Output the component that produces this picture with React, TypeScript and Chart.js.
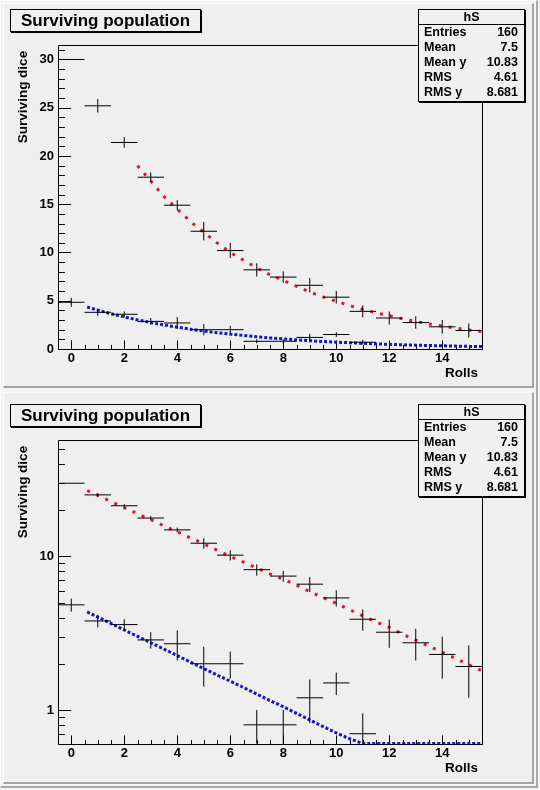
import React, { useEffect, useRef } from 'react';
import { Chart, registerables } from 'chart.js';

Chart.register(...registerables);

// ---------------- data ----------------
const rolls = [0, 1, 2, 3, 4, 5, 6, 7, 8, 9, 10, 11, 12, 13, 14, 15];
const survivingDice = [30, 25.2, 21.4, 17.8, 14.9, 12.2, 10.2, 8.2, 7.45, 6.6, 5.37, 3.9, 3.21, 2.74, 2.3, 1.92];
const survivingErr = [0, 0.7, 0.55, 0.5, 0.52, 0.95, 0.78, 0.69, 0.6, 0.74, 0.65, 0.62, 0.67, 0.64, 0.7, 0.72];
const removedDice: (number | null)[] = [4.84, 3.8, 3.6, 2.86, 2.7, 2.0, 2.0, 0.8, 0.8, 1.2, 1.5, 0.7, null, null, null, null];
const removedErr = [0.47, 0.35, 0.3, 0.35, 0.6, 0.58, 0.4, 0.2, 0.2, 0.38, 0.25, 0.25, 0, 0, 0, 0];

const curveX = [0.6, 1, 1.5, 2, 2.5, 3, 3.5, 4, 4.5, 5, 5.5, 6, 6.5, 7, 7.5, 8, 8.5, 9, 9.5, 10, 10.5, 11, 11.5, 12, 12.5, 13, 13.5, 14, 14.5, 15, 15.5];
const survivingCurve = [26.9, 25.0, 22.8, 20.8, 19.0, 17.4, 15.8, 14.5, 13.2, 12.1, 11.0, 10.0, 9.2, 8.4, 7.7, 7.1, 6.5, 5.9, 5.4, 4.95, 4.5, 4.1, 3.75, 3.45, 3.12, 2.85, 2.6, 2.38, 2.17, 1.97, 1.8];
const removedCurve = [4.35, 4.03, 3.66, 3.32, 3.02, 2.74, 2.49, 2.26, 2.05, 1.86, 1.69, 1.54, 1.4, 1.27, 1.15, 1.05, 0.95, 0.86, 0.78, 0.71, 0.65, 0.59, 0.53, 0.48, 0.44, 0.4, 0.36, 0.33, 0.3, 0.27, 0.25];
const survivingCurveLinearStart = 2.5;

const xTickLabels = [0, 2, 4, 6, 8, 10, 12, 14];
const xMinorTicks = [0.5, 1, 1.5, 2.5, 3, 3.5, 4.5, 5, 5.5, 6.5, 7, 7.5, 8.5, 9, 9.5, 10.5, 11, 11.5, 12.5, 13, 13.5, 14.5, 15, 15.5];
const yTickLabelsLin = [0, 5, 10, 15, 20, 25, 30];
const yMinorLin = [1, 2, 3, 4, 6, 7, 8, 9, 11, 12, 13, 14, 16, 17, 18, 19, 21, 22, 23, 24, 26, 27, 28, 29, 31];
const yTickLabelsLog = [1, 10];
const yMinorLog = [0.7, 0.8, 0.9, 2, 3, 4, 5, 6, 7, 8, 9, 20, 30, 40, 50];

const xRange = [-0.5, 15.5];
const yRangeLin = [0, 31.5];
const yRangeLog = [0.604, 57.4];

const statsTitle = 'hS';
const statsRows: [string, string][] = [
  ['Entries', '160'],
  ['Mean', '7.5'],
  ['Mean y', '10.83'],
  ['RMS', '4.61'],
  ['RMS y', '8.681'],
];
const panelTitle = 'Surviving population';
const xTitle = 'Rolls';
const yTitle = 'Surviving dice';

// ---------------- style ----------------
const FONT = '"Liberation Sans", Arial, Helvetica, sans-serif';
const RED = '#e01530';
const BLUE = '#1414c8';

function crossSegments(values: (number | null)[], errors: number[], lo: number) {
  const pts: { x: number; y: number | null }[] = [];
  rolls.forEach((x, i) => {
    const v = values[i];
    if (v == null) return;
    const e = errors[i];
    pts.push({ x: x - 0.5, y: v }, { x: x + 0.5, y: v }, { x, y: null });
    if (e > 0) pts.push({ x, y: Math.max(v - e, lo) }, { x, y: v + e }, { x, y: null });
  });
  return pts;
}

const rootAxesPlugin = {
  id: 'rootAxes',
  beforeDatasetsDraw(chart: any, _args: any, opts: any) {
    const { ctx, chartArea: a, scales } = chart;
    ctx.save();
    ctx.strokeStyle = '#000';
    ctx.lineWidth = 1;
    const L = Math.round(a.left) + 0.5;
    const R = Math.round(a.right) + 0.5;
    const T = Math.round(a.top) + 0.5;
    const B = Math.round(a.bottom) + 0.5;
    ctx.beginPath();
    ctx.rect(L, T, R - L, B - T);
    ctx.stroke();
    const h = B - T;
    const w = R - L;
    const line = (x1: number, y1: number, x2: number, y2: number) => {
      ctx.beginPath();
      ctx.moveTo(x1, y1);
      ctx.lineTo(x2, y2);
      ctx.stroke();
    };
    for (const v of opts.yMajor) {
      const p = Math.round(scales.y.getPixelForValue(v)) + 0.5;
      line(L, p, L + w * 0.03, p);
    }
    for (const v of opts.yMinor) {
      const p = Math.round(scales.y.getPixelForValue(v)) + 0.5;
      line(L, p, L + w * 0.015, p);
    }
    for (const v of opts.xMajor) {
      const p = Math.round(scales.x.getPixelForValue(v)) + 0.5;
      line(p, B, p, B - h * 0.03);
    }
    for (const v of opts.xMinor) {
      const p = Math.round(scales.x.getPixelForValue(v)) + 0.5;
      line(p, B, p, B - h * 0.015);
    }
    ctx.restore();
  },
};

function Panel({ top, log }: { top: number; log: boolean }) {
  const ref = useRef<HTMLCanvasElement | null>(null);

  useEffect(() => {
    if (!ref.current) return;
    const lo = log ? yRangeLog[0] : -Infinity;
    const clampPts = (ys: number[], minX: number) =>
      curveX
        .map((x, i) => ({ x, y: Math.max(ys[i], lo) }))
        .filter((p) => p.x >= minX);
    const tickFont = { family: FONT, size: 13, weight: 'bold' as const };

    const chart = new Chart(ref.current, {
      type: 'scatter',
      data: {
        datasets: [
          {
            data: crossSegments(survivingDice, survivingErr, lo),
            showLine: true,
            spanGaps: false,
            borderColor: '#000',
            borderWidth: 1,
            pointRadius: 0,
          },
          {
            data: crossSegments(removedDice, removedErr, lo),
            showLine: true,
            spanGaps: false,
            borderColor: '#000',
            borderWidth: 1,
            pointRadius: 0,
          },
          {
            data: clampPts(survivingCurve, log ? -Infinity : survivingCurveLinearStart),
            showLine: true,
            borderColor: RED,
            borderWidth: 3,
            borderDash: [3, 7],
            pointRadius: 0,
            tension: 0,
          },
          {
            data: clampPts(removedCurve, -Infinity),
            showLine: true,
            borderColor: BLUE,
            borderWidth: 3,
            borderDash: [3, 2],
            pointRadius: 0,
            tension: 0,
          },
        ],
      } as any,
      options: {
        animation: false,
        responsive: false,
        maintainAspectRatio: false,
        events: [],
        layout: { padding: { top: 45, right: 58, bottom: 0, left: 0 } },
        plugins: {
          legend: { display: false },
          tooltip: { enabled: false },
          title: { display: false },
          rootAxes: {
            yMajor: log ? yTickLabelsLog : yTickLabelsLin,
            yMinor: log ? yMinorLog : yMinorLin,
            xMajor: xTickLabels,
            xMinor: xMinorTicks,
          },
        } as any,
        scales: {
          x: {
            type: 'linear',
            min: xRange[0],
            max: xRange[1],
            grid: { display: false, drawTicks: false },
            border: { display: false },
            ticks: {
              font: tickFont,
              color: '#000',
              padding: 2,
              autoSkip: false,
              maxRotation: 0,
              callback: (v: any) => String(v),
            },
            afterBuildTicks: (s: any) => {
              s.ticks = xTickLabels.map((v) => ({ value: v }));
            },
            afterFit: (s: any) => {
              s.height = 41;
            },
          },
          y: {
            type: log ? 'logarithmic' : 'linear',
            min: log ? yRangeLog[0] : yRangeLin[0],
            max: log ? yRangeLog[1] : yRangeLin[1],
            grid: { display: false, drawTicks: false },
            border: { display: false },
            ticks: {
              font: tickFont,
              color: '#000',
              padding: 4,
              autoSkip: false,
              callback: (v: any) => String(v),
            },
            afterBuildTicks: (s: any) => {
              s.ticks = (log ? yTickLabelsLog : yTickLabelsLin).map((v) => ({ value: v }));
            },
            afterFit: (s: any) => {
              s.width = 58;
            },
          },
        } as any,
      },
      plugins: [rootAxesPlugin],
    });
    return () => chart.destroy();
  }, [log]);

  const boxBase: React.CSSProperties = {
    position: 'absolute',
    boxSizing: 'border-box',
    border: '1px solid #000',
    boxShadow: '1px 1px 0 #000',
    background: '#f0f0f0',
    fontFamily: FONT,
    fontWeight: 'bold',
    color: '#000',
  };

  return (
    <div style={{ position: 'absolute', left: 0, top, width: 540, height: 390 }}>
      <canvas
        ref={ref}
        width={540}
        height={390}
        style={{ position: 'absolute', left: 0, top: 0, width: 540, height: 390 }}
      />
      <div
        style={{
          ...boxBase,
          left: 10,
          top: 9,
          width: 191,
          height: 23,
          fontSize: 17,
          lineHeight: '21px',
          paddingLeft: 10,
          whiteSpace: 'nowrap',
        }}
      >
        {panelTitle}
      </div>
      <div style={{ ...boxBase, left: 418, top: 9, width: 107, height: 93, fontSize: 12.5 }}>
        <div
          style={{
            height: 14,
            lineHeight: '14px',
            textAlign: 'center',
            borderBottom: '1px solid #000',
          }}
        >
          {statsTitle}
        </div>
        {statsRows.map(([k, v]) => (
          <div
            key={k}
            style={{
              display: 'flex',
              justifyContent: 'space-between',
              height: 15,
              lineHeight: '15px',
              paddingLeft: 5,
              paddingRight: 6,
              whiteSpace: 'nowrap',
            }}
          >
            <span>{k}</span>
            <span>{v}</span>
          </div>
        ))}
      </div>
      <div
        style={{
          position: 'absolute',
          left: 23 - 60,
          top: 96.5 - 8,
          width: 120,
          height: 16,
          lineHeight: '16px',
          textAlign: 'center',
          transform: 'rotate(-90deg)',
          fontFamily: FONT,
          fontWeight: 'bold',
          fontSize: 13.5,
          color: '#000',
          whiteSpace: 'nowrap',
        }}
      >
        {yTitle}
      </div>
      <div
        style={{
          position: 'absolute',
          left: 378,
          top: 373.3 - 8,
          width: 100,
          height: 16,
          lineHeight: '16px',
          textAlign: 'right',
          fontFamily: FONT,
          fontWeight: 'bold',
          fontSize: 13.5,
          color: '#000',
        }}
      >
        {xTitle}
      </div>
    </div>
  );
}

export default function App() {
  const pad = (top: number, height: number): React.CSSProperties => ({
    position: 'absolute',
    left: 3,
    top,
    width: 531,
    height,
    boxSizing: 'border-box',
    background: '#efefef',
    borderTop: '1px solid #fafafa',
    borderLeft: '1px solid #fafafa',
    borderRight: '2px solid #a4a4a4',
    borderBottom: '2px solid #a4a4a4',
  });
  return (
    <div
      style={{
        position: 'absolute',
        left: 0,
        top: 0,
        width: 540,
        height: 790,
        background: '#f4f4f4',
        overflow: 'hidden',
      }}
    >
      <div
        style={{
          position: 'absolute',
          left: 0,
          top: 0,
          width: 538,
          height: 788,
          boxSizing: 'border-box',
          borderRight: '2px solid #a8a8a8',
          borderBottom: '2px solid #a8a8a8',
          borderTop: '1px solid #fcfcfc',
          borderLeft: '1px solid #fcfcfc',
        }}
      />
      <div style={pad(3, 385)} />
      <div style={pad(392, 392)} />
      <Panel top={0} log={false} />
      <Panel top={395} log={true} />
    </div>
  );
}
